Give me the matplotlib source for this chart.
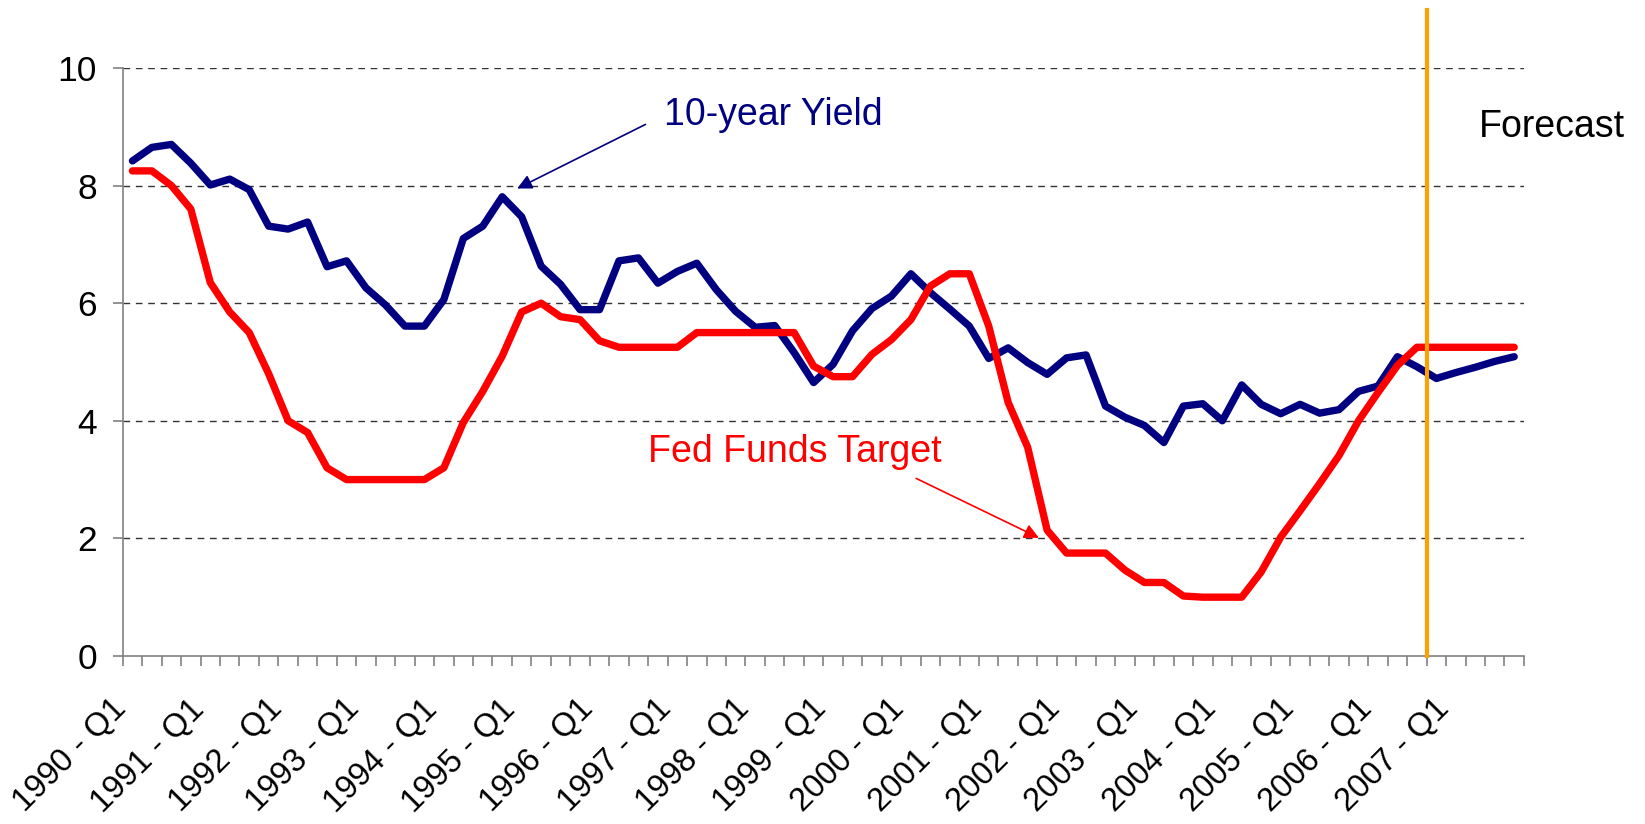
import matplotlib
matplotlib.use("Agg")
import matplotlib.pyplot as plt
import matplotlib.transforms as mtransforms
import numpy as np

plt.rcParams['font.family'] = ['Liberation Sans', 'DejaVu Sans']

# quarters 1990 Q1 .. 2007 Q4
years = list(range(1990, 2008))
quarters = [f"{y} - Q{q}" for y in years for q in range(1, 5)]

# 10-year treasury yield (%)
yield_10y = [8.42, 8.65, 8.70, 8.38, 8.01, 8.11, 7.93, 7.31, 7.26, 7.38,
             6.62, 6.72, 6.26, 5.97, 5.61, 5.61, 6.06, 7.10, 7.31, 7.81,
             7.47, 6.63, 6.32, 5.89, 5.89, 6.72, 6.77, 6.34, 6.54, 6.68,
             6.23, 5.86, 5.59, 5.62, 5.16, 4.65, 4.96, 5.53, 5.91, 6.12,
             6.50, 6.18, 5.90, 5.61, 5.06, 5.24, 4.99, 4.79, 5.07, 5.12,
             4.25, 4.06, 3.92, 3.63, 4.25, 4.29, 4.00, 4.61, 4.28, 4.12,
             4.28, 4.13, 4.19, 4.50, 4.59, 5.09, 4.92, 4.72, 4.82, 4.91,
             5.01, 5.09]

# Fed funds target (%)
fed_funds = [8.25, 8.25, 8.00, 7.60, 6.35, 5.85, 5.50, 4.80, 4.00, 3.80,
             3.20, 3.00, 3.00, 3.00, 3.00, 3.00, 3.20, 3.97, 4.50, 5.10,
             5.85, 6.00, 5.77, 5.72, 5.36, 5.25, 5.25, 5.25, 5.25, 5.50,
             5.50, 5.50, 5.50, 5.50, 5.50, 4.93, 4.75, 4.75, 5.13, 5.38,
             5.72, 6.29, 6.50, 6.50, 5.61, 4.31, 3.55, 2.14, 1.75, 1.75,
             1.75, 1.46, 1.25, 1.25, 1.02, 1.00, 1.00, 1.00, 1.43, 2.02,
             2.47, 2.93, 3.41, 4.00, 4.48, 4.94, 5.25, 5.25, 5.25, 5.25,
             5.25, 5.25]

forecast_start = 66.5  # boundary before forecast period

x = np.arange(len(quarters))

fig = plt.figure(figsize=(16.45, 8.24), dpi=100)
ax = fig.add_axes([0.0746, 0.2039, 0.8518, 0.7136])

# grid
for v in range(2, 12, 2):
    ax.axhline(v, color='#333333', lw=1.0, dashes=(4.8, 4.1), zorder=1)

ax.plot(x, yield_10y, color='#000080', lw=5.3, zorder=3,
        solid_capstyle='round')
ax.plot(x, fed_funds, color='#FF0000', lw=5.3, zorder=3,
        solid_capstyle='round')

# forecast divider
ax.plot([forecast_start, forecast_start], [0, 10.98], color='#FFA000', lw=3,
        zorder=4, clip_on=False)

ax.set_xlim(-0.5, len(quarters) - 0.5)
ax.set_ylim(0, 10)

# axes styling
for s in ['top', 'right']:
    ax.spines[s].set_visible(False)
for s in ['left', 'bottom']:
    ax.spines[s].set_color('#808080')
    ax.spines[s].set_linewidth(1.2)

ax.set_yticks(range(0, 11, 2))
ax.tick_params(axis='y', length=7, width=1.2, color='#808080',
               labelsize=25.5, pad=11.5)

ax.set_xticks(x[::4])
ax.set_xticklabels(quarters[::4], rotation=45, ha='right',
                   rotation_mode='anchor', va='top')
ax.set_xticks(np.arange(-0.5, len(quarters), 1), minor=True)
ax.tick_params(axis='x', which='major', length=0, labelsize=23.5, pad=27)
ax.tick_params(axis='x', which='minor', length=7, width=1.2, color='#808080')
shift = mtransforms.ScaledTranslation(-0.22, 0, fig.dpi_scale_trans)
for lab in ax.get_xticklabels():
    lab.set_transform(lab.get_transform() + shift)

# annotations
ax.annotate('', xy=(19.77, 7.95), xytext=(26.36, 9.04),
            arrowprops=dict(arrowstyle='-|>', color='#000080', lw=1.2,
                            mutation_scale=22, shrinkA=0, shrinkB=0))
ax.text(27.3, 9.2, '10-year Yield', color='#000080', fontsize=27,
        ha='left', va='center')

ax.annotate('', xy=(46.58, 2.01), xytext=(40.27, 3.02),
            arrowprops=dict(arrowstyle='-|>', color='#FF0000', lw=1.2,
                            mutation_scale=22, shrinkA=0, shrinkB=0))
ax.text(26.5, 3.47, 'Fed Funds Target', color='#FF0000', fontsize=27,
        ha='left', va='center')

ax.text(69.2, 9.0, 'Forecast', color='black', fontsize=27,
        ha='left', va='center', clip_on=False)

fig.savefig('out.png', dpi=100)
